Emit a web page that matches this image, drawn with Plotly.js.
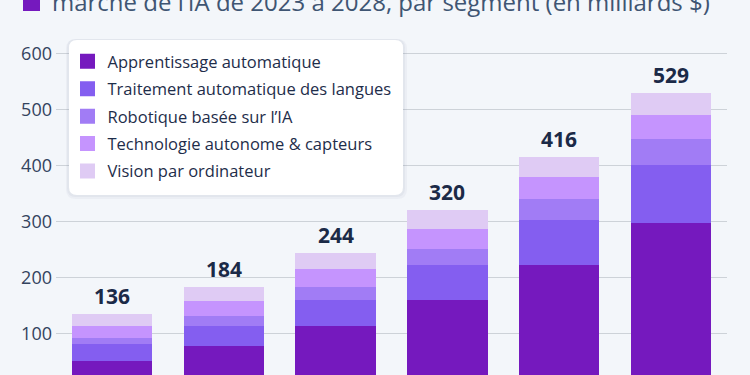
<!DOCTYPE html>
<html>
<head>
<meta charset="utf-8">
<script src="https://cdn.plot.ly/plotly-3.0.1.min.js"></script>
<style>html,body{margin:0;padding:0;background:#f3f6fa;}#chart{width:750px;height:375px;}</style>
</head>
<body>
<div id="chart"></div>
<script>
var years = ['2023', '2024', '2025', '2026', '2027', '2028'];
var seriesNames = ['Apprentissage automatique', 'Traitement automatique des langues', 'Robotique basée sur l’IA', 'Technologie autonome & capteurs', 'Vision par ordinateur'];
var machineLearning = [51.5, 78.5, 113.5, 160, 222, 298];
var nlp = [30, 36.5, 47, 63, 81.5, 103];
var robotics = [12, 17, 23.5, 29, 37, 45.5];
var autonomous = [20.5, 26.5, 31, 35.5, 40, 44];
var vision = [22, 25.5, 29, 32.5, 35.5, 38.5];
var totalLabels = ['136', '184', '244', '320', '416', '529'];
var yTicks = [100, 200, 300, 400, 500, 600];
var titleText = 'marché de l’IA de 2023 à 2028, par segment (en milliards $)';

var colors = ['#7519be', '#845ef0', '#a17cf5', '#c594fe', '#dfcbf4'];
var seriesValues = [machineLearning, nlp, robotics, autonomous, vision];

var traces = [];
seriesValues.forEach(function (vals, i) {
  traces.push({
    type: 'bar', x: years, y: vals, name: seriesNames[i],
    marker: {color: colors[i], line: {width: 0}},
    showlegend: false, hoverinfo: 'skip', legendgroup: 'b'
  });
});
seriesValues.forEach(function (vals, i) {
  traces.push({
    type: 'scatter', mode: 'markers', x: [years[0]], y: [null], name: seriesNames[i],
    marker: {symbol: 'square', size: 15, color: colors[i]},
    legendgroup: 'g' + i, showlegend: true, hoverinfo: 'skip'
  });
});

var totals = years.map(function (_, j) {
  return seriesValues.reduce(function (s, arr) { return s + arr[j]; }, 0);
});

var annotations = years.map(function (yr, j) {
  return {
    x: j, y: totals[j], xref: 'x', yref: 'y', text: totalLabels[j],
    showarrow: false, yanchor: 'bottom', yshift: 2,
    font: {family: 'Open Sans, sans-serif', size: 21, color: '#1b2a47', weight: 700}
  };
});
annotations.push({
  xref: 'paper', yref: 'paper', x: -6 / 671, y: 1 - 2 / 375, xanchor: 'left', yanchor: 'middle',
  text: titleText, showarrow: false,
  font: {family: 'Open Sans, sans-serif', size: 24, color: '#3f5573'}
});

function roundRect(x0, y0, x1, y1, r) {
  return 'M' + (x0 + r) + ',' + y0 + ' L' + (x1 - r) + ',' + y0 +
    ' Q' + x1 + ',' + y0 + ' ' + x1 + ',' + (y0 - r) +
    ' L' + x1 + ',' + (y1 + r) + ' Q' + x1 + ',' + y1 + ' ' + (x1 - r) + ',' + y1 +
    ' L' + (x0 + r) + ',' + y1 + ' Q' + x0 + ',' + y1 + ' ' + x0 + ',' + (y1 + r) +
    ' L' + x0 + ',' + (y0 - r) + ' Q' + x0 + ',' + y0 + ' ' + (x0 + r) + ',' + y0 + ' Z';
}
function pixShape(path, fill, opacity, layer) {
  return {
    type: 'path', xref: 'paper', yref: 'paper', xsizemode: 'pixel', ysizemode: 'pixel',
    xanchor: 0, yanchor: 1, path: path, fillcolor: fill, opacity: opacity,
    line: {width: 0}, layer: layer || 'above'
  };
}
var shapes = [
  pixShape(roundRect(10, -39, 351, -199, 10), '#5a6b85', 0.05),
  pixShape(roundRect(11, -39, 349, -197, 9), '#5a6b85', 0.06),
  pixShape(roundRect(13, -40, 347, -195, 8), '#ffffff', 1),
  pixShape('M-33,6 L-16,6 L-16,-11 L-33,-11 Z', '#7519be', 1)
];

var layout = {
  width: 750, height: 375,
  margin: {l: 56, r: 23, t: 0, b: 0, pad: 0},
  paper_bgcolor: '#f3f6fa', plot_bgcolor: '#f3f6fa',
  barmode: 'stack', bargap: 0.283,
  font: {family: 'Open Sans, sans-serif'},
  xaxis: {
    type: 'category', categoryorder: 'array', categoryarray: years, range: [-0.5, 5.5],
    showticklabels: false, showgrid: false, zeroline: false, showline: false, fixedrange: true
  },
  yaxis: {
    range: [26.9, 694.9], tickvals: yTicks, ticktext: yTicks.map(String),
    showgrid: true, gridcolor: '#cdd2d8', gridwidth: 1, zeroline: false, showline: false,
    ticks: '', ticklabelstandoff: 3,
    tickfont: {family: 'Open Sans, sans-serif', size: 18, color: '#33435e'}
  },
  showlegend: true,
  legend: {
    x: 11.5 / 671, y: 1 - 44 / 375, xanchor: 'left', yanchor: 'top',
    bgcolor: 'rgba(0,0,0,0)', borderwidth: 0,
    traceorder: 'grouped', tracegroupgap: 3,
    font: {family: 'Open Sans, sans-serif', size: 16.5, color: '#1e2d4a'}
  },
  annotations: annotations,
  shapes: shapes
};

Plotly.newPlot('chart', traces, layout, {displayModeBar: false, staticPlot: true});
</script>
</body>
</html>
